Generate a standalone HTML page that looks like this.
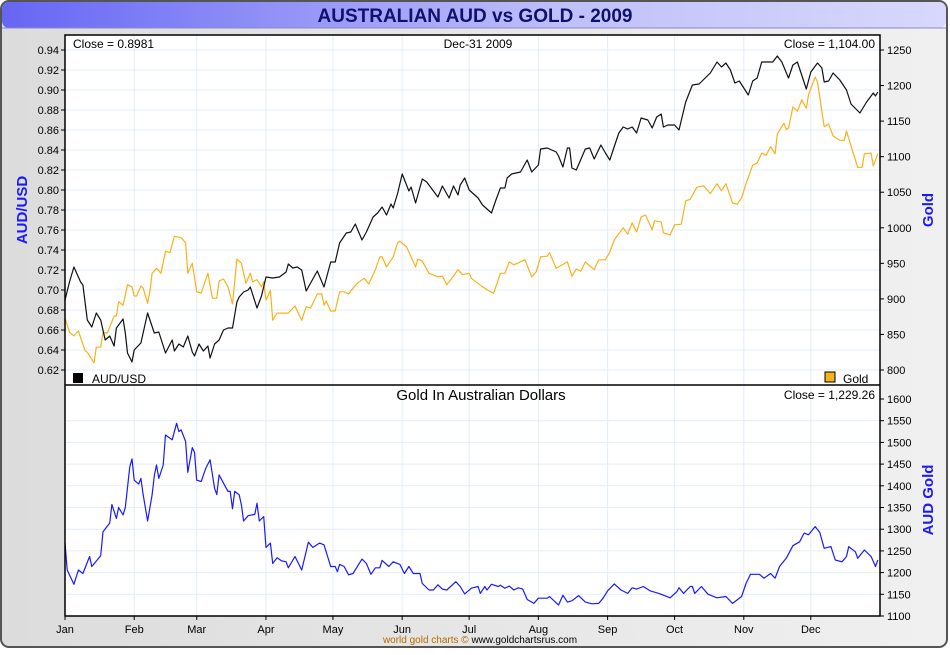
<!DOCTYPE html>
<html><head><meta charset="utf-8"><style>
body{margin:0;width:950px;height:650px;overflow:hidden;background:#fff;font-family:"Liberation Sans",sans-serif}
</style></head><body>
<svg id="c" width="950" height="650" xmlns="http://www.w3.org/2000/svg">
<defs>
<linearGradient id="bg" x1="0" y1="0" x2="1" y2="0"><stop offset="0" stop-color="#dcdcdc"/><stop offset="1" stop-color="#f0f0f0"/></linearGradient>
<linearGradient id="tb" x1="0" y1="0" x2="1" y2="0"><stop offset="0" stop-color="#6666f4"/><stop offset="0.6" stop-color="#c0c0fa"/><stop offset="1" stop-color="#d8d8fc"/></linearGradient>
</defs>
<rect x="1" y="1" width="946" height="646" rx="8" fill="url(#bg)" stroke="#555" stroke-width="2"/>
<rect x="2" y="2" width="944" height="26" rx="7" fill="url(#tb)"/>
<line x1="2" y1="28" x2="946" y2="28" stroke="#8888cc"/>
<text x="475" y="22" text-anchor="middle" font-size="19" font-weight="bold" fill="#10106e">AUSTRALIAN AUD vs GOLD - 2009</text>
<g id="g"></g>
</svg>
<script>
const audDays=[0,2,4,7,8,10,12,14,16,18,20,22,23,26,27,28,30,31,34,37,40,42,45,48,49,51,53,55,57,58,60,62,64,65,67,69,71,73,75,77,78,80,82,83,86,88,90,93,96,99,100,102,104,106,108,113,116,119,121,123,126,128,130,133,135,138,140,142,144,146,147,149,151,154,155,157,160,162,167,169,172,174,176,177,179,181,185,187,191,193,195,197,198,200,202,204,207,209,212,213,216,220,221,223,225,226,227,229,233,235,237,240,242,244,248,250,252,254,256,258,261,263,265,267,268,270,273,275,278,281,284,289,292,294,296,298,300,302,306,308,310,312,314,317,319,321,324,326,328,332,334,337,339,340,342,344,347,350,352,356,359,362,363,364];
const audVals=[0.690,0.708,0.723,0.708,0.705,0.670,0.663,0.677,0.670,0.650,0.654,0.644,0.662,0.671,0.657,0.637,0.628,0.640,0.647,0.677,0.657,0.658,0.637,0.650,0.639,0.646,0.643,0.654,0.638,0.634,0.646,0.639,0.644,0.632,0.646,0.650,0.660,0.662,0.662,0.688,0.693,0.698,0.700,0.703,0.682,0.694,0.713,0.712,0.713,0.718,0.726,0.722,0.723,0.720,0.699,0.719,0.703,0.728,0.728,0.747,0.757,0.758,0.766,0.750,0.758,0.773,0.777,0.783,0.775,0.786,0.782,0.797,0.816,0.799,0.803,0.787,0.811,0.808,0.793,0.804,0.792,0.804,0.795,0.805,0.812,0.800,0.792,0.785,0.777,0.790,0.802,0.802,0.812,0.816,0.817,0.818,0.830,0.818,0.825,0.841,0.842,0.838,0.834,0.823,0.842,0.842,0.822,0.820,0.841,0.842,0.831,0.845,0.837,0.830,0.857,0.863,0.861,0.863,0.857,0.872,0.870,0.862,0.873,0.876,0.863,0.865,0.865,0.860,0.888,0.905,0.906,0.917,0.928,0.923,0.927,0.920,0.907,0.909,0.895,0.909,0.912,0.928,0.928,0.928,0.934,0.928,0.912,0.925,0.928,0.901,0.918,0.927,0.922,0.908,0.909,0.917,0.910,0.900,0.886,0.877,0.888,0.897,0.894,0.898];
const goldDays=[0,2,4,6,9,10,13,14,16,17,19,22,23,24,26,28,30,31,32,34,35,37,38,39,41,43,45,47,49,52,54,55,57,59,61,64,66,68,69,71,73,75,77,79,81,83,84,86,88,89,90,92,93,95,100,103,106,108,110,113,115,116,117,119,121,123,125,127,129,131,134,136,139,141,142,144,147,149,150,153,155,157,158,160,163,167,169,171,174,176,178,181,182,187,190,192,195,197,199,201,206,209,211,213,216,217,220,225,227,229,231,233,237,239,242,244,246,250,252,254,256,258,260,263,264,267,268,271,273,276,278,280,283,286,289,292,294,296,299,301,303,305,308,310,312,314,316,318,319,322,323,324,326,328,330,332,333,336,337,340,342,344,347,349,350,353,355,357,358,361,362,364];
const goldVals=[873,853,848,855,827,825,810,832,832,853,852,876,876,896,891,920,917,904,904,918,915,894,910,936,943,936,967,965,988,986,979,936,950,910,908,936,901,901,925,928,917,893,956,950,922,936,924,927,917,924,898,912,870,880,880,890,870,889,887,907,907,891,897,883,883,910,910,907,915,922,929,921,941,959,959,945,959,979,981,973,959,945,956,953,936,931,932,920,932,941,934,936,929,917,911,908,936,936,952,948,955,931,938,959,960,965,943,952,932,942,939,952,941,955,955,966,983,1000,991,1007,994,1015,1018,997,1010,1008,993,990,1004,1005,1038,1040,1057,1059,1048,1062,1052,1062,1035,1033,1042,1062,1088,1091,1105,1102,1114,1104,1132,1147,1138,1140,1170,1164,1180,1168,1187,1212,1205,1142,1146,1129,1123,1123,1136,1105,1085,1085,1104,1105,1087,1104];
const agDays=[0,1,4,6,8,11,12,16,17,20,21,23,24,26,27,29,30,31,33,34,35,37,39,40,41,42,44,45,48,50,51,52,54,55,57,58,59,61,63,65,67,68,69,71,73,74,75,76,78,79,80,82,85,86,87,89,90,92,93,95,97,99,100,103,106,109,111,114,116,119,121,122,123,125,127,129,133,135,137,139,141,142,145,147,150,152,154,156,159,160,163,165,167,169,171,175,177,179,182,185,186,188,189,191,194,195,197,199,201,203,205,207,210,212,216,217,221,223,225,227,230,233,236,239,241,243,246,249,252,254,256,259,262,266,271,274,275,277,280,281,282,285,288,292,296,299,303,305,307,311,313,316,318,320,323,326,329,331,333,336,338,340,343,345,348,350,351,354,355,358,361,363,364];
const agVals=[1268,1206,1173,1206,1198,1237,1214,1239,1294,1314,1357,1325,1350,1333,1350,1444,1462,1413,1404,1417,1379,1319,1379,1423,1448,1417,1448,1517,1506,1544,1525,1529,1502,1431,1488,1477,1413,1410,1440,1460,1394,1380,1425,1406,1387,1387,1347,1387,1379,1356,1319,1331,1334,1360,1319,1329,1258,1268,1221,1234,1227,1225,1211,1237,1206,1270,1258,1268,1264,1214,1214,1202,1219,1214,1195,1198,1231,1221,1196,1211,1211,1228,1214,1225,1219,1198,1214,1198,1198,1175,1160,1160,1172,1162,1160,1179,1168,1151,1164,1168,1152,1168,1160,1173,1168,1171,1164,1169,1160,1165,1162,1138,1129,1141,1141,1145,1125,1148,1132,1135,1147,1132,1128,1129,1141,1158,1174,1160,1152,1165,1162,1168,1158,1152,1142,1156,1165,1152,1168,1168,1152,1168,1150,1142,1145,1129,1145,1175,1196,1196,1187,1198,1187,1214,1233,1262,1271,1291,1287,1306,1293,1256,1260,1229,1225,1237,1260,1248,1233,1252,1237,1214,1229];
const leftTicks=[0.94,0.92,0.90,0.88,0.86,0.84,0.82,0.80,0.78,0.76,0.74,0.72,0.70,0.68,0.66,0.64,0.62];
const rightTicks=[1250,1200,1150,1100,1050,1000,950,900,850,800];
const botTicks=[1600,1550,1500,1450,1400,1350,1300,1250,1200,1150,1100];
const months=["Jan","Feb","Mar","Apr","May","Jun","Jul","Aug","Sep","Oct","Nov","Dec"];
const monthStart=[0,31,59,90,120,151,181,212,243,273,304,334];

const X0=65,X1=880,T0=35,T1=385,B1=616;
const xs=d=>X0+d/365*(X1-X0);
const yA=v=>50+(0.94-v)*1000;
const yG=v=>50+(1250-v)*320/450;
const yB=v=>399+(1600-v)*217/500;
const g=document.getElementById('g');
const NS='http://www.w3.org/2000/svg';
function el(t,a,txt){const e=document.createElementNS(NS,t);for(const k in a)e.setAttribute(k,a[k]);if(txt!=null)e.textContent=txt;g.appendChild(e);return e;}

let r=el('rect',{x:X0,y:T0,width:X1-X0,height:B1-T0,fill:'#fff'});


monthStart.forEach((d,i)=>{
  if(i>0){const l=el('line',{x1:xs(d),x2:xs(d),y1:T0,y2:B1,stroke:'#e2eef8'});
  
  }
  const t=el('text',{x:xs(d),y:633,'text-anchor':'middle','font-size':11,fill:'#000'},months[i]);
  
  
  const tk=el('line',{x1:xs(d),x2:xs(d),y1:B1,y2:B1+4,stroke:'#000'});
  
  
});
leftTicks.forEach(v=>{
  const y=yA(v);
  const l=el('line',{x1:X0,x2:X1,y1:y,y2:y,stroke:'#e2eef8'});
  
  
  el('line',{x1:X0-4,x2:X0,y1:y,y2:y,stroke:'#000'});
  const t=el('text',{x:X0-6,y:y+4,'text-anchor':'end','font-size':11},v.toFixed(2));
  
  
});
rightTicks.forEach(v=>{
  const y=yG(v);
  el('line',{x1:X1,x2:X1+4,y1:y,y2:y,stroke:'#000'});
  const t=el('text',{x:X1+7,y:y+4,'font-size':11},String(v));
  
  
});
botTicks.forEach(v=>{
  const y=yB(v);
  if(v<1600){const l=el('line',{x1:X0,x2:X1,y1:y,y2:y,stroke:'#e2eef8'});
  
  }
  el('line',{x1:X1,x2:X1+4,y1:y,y2:y,stroke:'#000'});
  const t=el('text',{x:X1+7,y:y+4,'font-size':11},String(v));
  
  
});
function line(days,vals,f,color,name){
  const p=days.map((d,i)=>xs(d).toFixed(1)+','+f(vals[i]).toFixed(1)).join(' ');
  const e=el('polyline',{points:p,fill:'none',stroke:color,'stroke-width':1.2,'stroke-linejoin':'round'});
  
  
}
line(goldDays,goldVals,yG,'#f7b21a','gold-line');
line(audDays,audVals,yA,'#111','aud-usd-line');
line(agDays,agVals,yB,'#1a1aff','gold-aud-line');
let b=el('rect',{x:X0,y:T0,width:X1-X0,height:B1-T0,fill:'none',stroke:'#000','stroke-width':1.5});


el('line',{x1:X0,x2:X1,y1:T1,y2:T1,stroke:'#000','stroke-width':1.5});
function txt(x,y,s,a,name){const t=el('text',Object.assign({x:x,y:y,'font-size':12},a),s);

return t;}
txt(73,48,'Close = 0.8981',{},'aud-close-label');
txt(478,48,'Dec-31  2009',{'text-anchor':'middle'},'date-label');
txt(875,48,'Close = 1,104.00',{'text-anchor':'end'},'gold-close-label');
txt(875,399,'Close = 1,229.26',{'text-anchor':'end'},'gold-aud-close-label');
txt(481,400,'Gold In Australian Dollars',{'text-anchor':'middle','font-size':15},'bottom-panel-title');
el('rect',{x:73,y:373,width:10,height:10,fill:'#000'});
txt(92,383,'AUD/USD',{},'legend-aud-usd');
el('rect',{x:825,y:372,width:10,height:10,fill:'#f7b21a',stroke:'#000'});
txt(843,383,'Gold',{},'legend-gold');
txt(27,210,'AUD/USD',{'font-size':15,'font-weight':'bold',fill:'#1a1aff','text-anchor':'middle',transform:'rotate(-90 27 210)'},'left-axis-title');
txt(933,210,'Gold',{'font-size':15,'font-weight':'bold',fill:'#1a1aff','text-anchor':'middle',transform:'rotate(-90 933 210)'},'right-axis-title');
txt(933,500,'AUD Gold',{'font-size':15,'font-weight':'bold',fill:'#1a1aff','text-anchor':'middle',transform:'rotate(-90 933 500)'},'bottom-axis-title');
const f=txt(480,643,'',{'text-anchor':'middle','font-size':10},'footer-credit');
const s1=document.createElementNS(NS,'tspan');s1.setAttribute('fill','#b36b00');s1.textContent='world gold charts © ';f.appendChild(s1);
const s2=document.createElementNS(NS,'tspan');s2.setAttribute('fill','#000');s2.textContent='www.goldchartsrus.com';f.appendChild(s2);
</script>
</body></html>
